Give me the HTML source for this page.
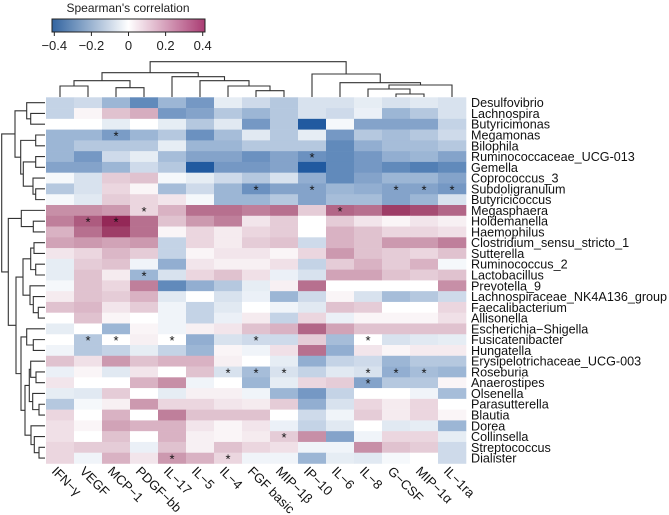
<!DOCTYPE html>
<html><head><meta charset="utf-8"><style>
html,body{margin:0;padding:0;background:#fff;}
svg{display:block;font-family:"Liberation Sans",Arial,sans-serif;}
</style></head><body>
<svg id="chart" width="669" height="515" viewBox="0 0 669 515">
<defs>
<linearGradient id="cbg" x1="0" x2="1" y1="0" y2="0">
<stop offset="0" stop-color="rgb(50,100,160)"/>
<stop offset="0.5" stop-color="#ffffff"/>
<stop offset="1" stop-color="rgb(170,60,115)"/>
</linearGradient>
</defs>
<g>
<text x="128" y="12" font-size="12" text-anchor="middle" fill="#222">Spearman's correlation</text>
<rect x="52" y="19" width="153" height="13" fill="url(#cbg)" stroke="#222" stroke-width="1"/>
<g id="cbticks"></g>
</g>
<g id="coldend"></g>
<g id="rowdend"></g>
<g id="cells"></g>
<g id="stars"></g>
<g id="rowlabels"></g>
<g id="collabels"></g>
</svg>
<script>
const columns = ["IFN\u2212\u03b3","VEGF","MCP\u22121","PDGF\u2212bb","IL\u221217","IL\u22125","IL\u22124","FGF basic","MIP\u22121\u03b2","IP\u221210","IL\u22126","IL\u22128","G\u2212CSF","MIP\u22121\u03b1","IL\u22121ra"];
const rows = ["Desulfovibrio","Lachnospira","Butyricimonas","Megamonas","Bilophila","Ruminococcaceae_UCG-013","Gemella","Coprococcus_3","Subdoligranulum","Butyricicoccus","Megasphaera","Holdemanella","Haemophilus","Clostridium_sensu_stricto_1","Sutterella","Ruminococcus_2","Lactobacillus","Prevotella_9","Lachnospiraceae_NK4A136_group","Faecalibacterium","Allisonella","Escherichia\u2212Shigella","Fusicatenibacter","Hungatella","Erysipelotrichaceae_UCG-003","Roseburia","Anaerostipes","Olsenella","Parasutterella","Blautia","Dorea","Collinsella","Streptococcus","Dialister"];
const values = [
[-0.12,-0.10,-0.20,-0.32,-0.20,-0.28,-0.05,-0.10,-0.15,-0.08,-0.08,-0.05,-0.08,-0.06,-0.08],
[-0.12,0.02,0.12,0.16,-0.28,-0.25,-0.15,-0.20,-0.15,-0.08,-0.10,-0.04,-0.20,-0.15,-0.08],
[0.00,0.00,-0.05,0.00,-0.05,-0.15,-0.06,-0.28,-0.15,-0.45,-0.02,-0.25,-0.25,-0.25,-0.12],
[-0.20,-0.20,-0.27,-0.20,-0.15,-0.30,-0.18,-0.06,-0.15,-0.05,-0.28,-0.15,-0.18,-0.15,-0.10],
[-0.20,-0.15,-0.15,-0.15,-0.05,-0.20,-0.20,-0.15,-0.15,-0.15,-0.32,-0.22,-0.18,-0.18,-0.15],
[-0.20,-0.28,-0.10,-0.05,-0.18,-0.25,-0.25,-0.30,-0.25,-0.30,-0.32,-0.28,-0.22,-0.20,-0.25],
[-0.25,-0.25,-0.20,-0.10,-0.15,-0.45,-0.28,-0.28,-0.25,-0.45,-0.32,-0.28,-0.32,-0.35,-0.32],
[-0.02,-0.08,0.10,0.12,-0.02,-0.05,-0.10,-0.15,-0.08,-0.22,-0.32,-0.25,-0.20,-0.20,-0.25],
[-0.15,-0.08,0.08,0.02,-0.18,-0.10,-0.20,-0.30,-0.25,-0.25,-0.20,-0.22,-0.25,-0.25,-0.28],
[-0.02,-0.06,0.10,0.08,0.05,-0.02,-0.20,-0.20,-0.15,-0.25,-0.18,-0.18,-0.25,-0.20,-0.08],
[0.22,0.22,0.20,0.08,0.15,0.28,0.28,0.25,0.28,0.10,0.30,0.28,0.38,0.35,0.30],
[0.25,0.32,0.42,0.28,0.12,0.20,0.25,0.05,0.10,0.00,0.10,0.05,0.02,0.05,0.03],
[0.15,0.28,0.38,0.28,0.02,0.08,0.04,0.08,0.10,0.00,0.15,0.12,0.08,0.08,0.06],
[0.18,0.20,0.18,0.20,-0.12,0.08,0.04,0.10,0.12,-0.10,0.15,0.12,0.20,0.20,0.25],
[0.05,0.08,0.14,0.10,-0.12,0.02,0.05,0.05,0.02,0.08,0.20,0.12,0.10,0.08,0.12],
[-0.05,0.10,0.12,-0.03,-0.22,0.05,0.03,0.03,0.06,-0.12,0.10,0.15,0.10,0.15,-0.02],
[-0.05,0.12,0.04,-0.20,-0.08,0.08,0.12,0.06,-0.04,-0.08,0.18,0.18,0.12,0.10,0.12],
[-0.02,0.12,0.08,0.25,-0.32,-0.22,-0.15,-0.05,0.03,0.28,0.00,0.00,0.00,0.00,0.22],
[0.04,0.12,0.10,0.15,-0.06,0.00,-0.08,-0.04,-0.20,-0.10,0.02,-0.08,-0.18,-0.15,-0.10],
[0.12,0.14,0.05,0.10,-0.03,-0.12,-0.06,0.00,-0.03,-0.06,0.12,0.10,0.00,0.00,0.08],
[0.00,0.12,0.02,0.00,-0.03,-0.12,-0.04,0.04,-0.12,0.08,-0.04,0.02,0.02,0.02,0.06],
[-0.05,0.00,-0.20,0.02,-0.03,0.03,0.05,0.12,0.15,0.30,0.18,0.12,0.12,0.12,0.12],
[0.00,-0.15,0.00,0.03,0.00,-0.22,-0.08,-0.10,-0.10,0.10,-0.18,0.00,-0.08,-0.06,-0.05],
[-0.03,-0.15,-0.12,-0.05,-0.12,-0.20,0.02,-0.03,0.06,0.28,-0.22,0.05,0.02,0.04,0.04],
[0.12,0.06,0.20,0.12,0.15,0.15,0.03,0.00,-0.05,-0.22,-0.12,-0.10,-0.20,-0.15,-0.15],
[-0.04,0.02,-0.06,0.05,0.00,0.12,-0.08,-0.18,-0.08,-0.12,-0.06,-0.08,-0.22,-0.18,-0.20],
[0.05,0.00,0.00,0.15,0.22,-0.03,0.00,-0.20,-0.05,0.08,0.10,-0.25,-0.15,-0.15,0.02],
[-0.05,-0.06,0.10,0.00,-0.05,0.03,0.03,-0.03,-0.20,-0.28,-0.12,0.00,0.00,-0.03,-0.18],
[-0.15,-0.02,0.03,0.20,0.08,0.08,0.05,0.04,0.10,-0.22,-0.08,0.08,0.04,0.08,0.00],
[0.08,0.00,0.15,0.00,0.25,0.12,0.12,0.12,0.00,-0.10,-0.03,0.10,0.04,0.08,0.02],
[0.06,0.02,0.18,0.15,0.15,0.05,0.02,0.05,-0.04,-0.12,-0.06,0.00,-0.06,-0.05,-0.20],
[0.06,0.00,0.12,0.00,0.15,0.03,0.02,0.04,0.10,0.22,-0.25,-0.03,0.08,0.08,-0.05],
[0.08,0.10,0.10,-0.04,0.12,0.03,0.12,0.08,0.06,-0.03,-0.03,0.22,0.12,0.10,-0.10],
[0.08,-0.03,0.15,0.05,0.20,0.15,0.08,-0.03,-0.03,-0.20,-0.05,-0.06,-0.02,0.00,-0.10]
];
const starRows = [3,5,8,8,8,8,8,10,10,11,11,16,22,22,22,22,22,25,25,25,25,25,25,26,31,33,33];
const starCols = [2,9,7,9,12,13,14,3,10,1,2,3,1,2,4,7,11,6,7,8,11,12,13,11,8,4,6];
const legendTicks = [-0.4,-0.2,0,0.2,0.4];
const legendTickLabels = ["\u22120.4","\u22120.2","0","0.2","0.4"];

const NS = "http://www.w3.org/2000/svg";
const X0 = 46, CW = 28, Y0 = 97.3, RH = 10.77;
function xScale(i){ return X0 + CW*i; }
function yScale(r){ return Y0 + RH*r; }
function legendX(v){ return 128.5 + v*(148.4/0.8); }
function color(v){
  const t = Math.min(1, Math.abs(v)/0.45);
  const end = v < 0 ? [33,90,160] : [140,25,75];
  const c = end.map(e => Math.round(255 + (e-255)*t));
  return "rgb(" + c.join(",") + ")";
}
function mk(tag, attrs, parent){
  const el = document.createElementNS(NS, tag);
  for (const k in attrs) el.setAttribute(k, attrs[k]);
  parent.appendChild(el);
  return el;
}
const cbt = document.getElementById("cbticks");
legendTicks.forEach((v,i) => {
  const ln = mk("line", {x1:legendX(v), x2:legendX(v), y1:32, y2:36, stroke:"#222"}, cbt);
  
  
  const tx = mk("text", {x:legendX(v), y:50, "font-size":13, "text-anchor":"middle", fill:"#222"}, cbt);
  tx.textContent = legendTickLabels[i];
  
  
});
const cg = document.getElementById("cells");
values.forEach((row, r) => row.forEach((v, c) => {
  const rc = mk("rect", {x:xScale(c), y:yScale(r), width:CW+0.3, height:RH+0.3, fill:color(v)}, cg);
  
  
}));
const sg = document.getElementById("stars");
starRows.forEach((r, i) => {
  const t = mk("text", {x:xScale(starCols[i])+CW/2, y:yScale(r)+RH/2+5.5, "font-size":13, "text-anchor":"middle", fill:"#111"}, sg);
  t.textContent = "*";
  
  
});
const rl = document.getElementById("rowlabels");
rows.forEach((name, r) => {
  const t = mk("text", {x:471, y:yScale(r)+RH/2+4.5, "font-size":12.6, fill:"#111"}, rl);
  t.textContent = name;
  
  
});
const cl = document.getElementById("collabels");
columns.forEach((name, c) => {
  const x = xScale(c)+CW/2-9, y = 472;
  const t = mk("text", {x:x, y:y, "font-size":13, fill:"#111", transform:"rotate(45 "+x+" "+y+")"}, cl);
  t.textContent = name;
  
  
});
const colTree = [61.7,
  [72.7, [80.7,[86,0,1],[87.7,2,3]], [76.7,4,[80.7,5,[86,6,[90.7,7,8]]]]],
  [74, 9, [82.7, 10, [85, [89, 11, [94, 12, 13]], 14]]]
];
const rowTree = [1.7,
  [15, [26.7,0,[30.7,1,2]], [20.7,[35.7,3,4],[23.3,[35.7,5,6],[33,7,[35.7,8,9]]]]],
  [8.3, [21.3,10,[33.3,11,12]],
    [16,
      [23, [30.7,[34,13,14],[35.7,15,16]], [30,17,[33.3,18,[38.3,19,20]]]],
      [21, [26.7,21,[33.3,22,23]], [25, [29.3,[30.7,24,[36,25,26]],[32.7,27,[39,28,29]]], [31,30,[34.3,31,[39,32,33]]]]]
    ]
  ]
];
function drawTree(node, g, leafPos, leafEnd, horizontal){
  if (typeof node === "number") return [leafPos(node), leafEnd];
  const h = node[0];
  const a = drawTree(node[1], g, leafPos, leafEnd, horizontal);
  const b = drawTree(node[2], g, leafPos, leafEnd, horizontal);
  let d;
  if (horizontal) d = "M"+a[0]+","+a[1]+"V"+h+"H"+b[0]+"V"+b[1];
  else d = "M"+a[1]+","+a[0]+"H"+h+"V"+b[0]+"H"+b[1];
  const p = mk("path", {d:d, fill:"none", stroke:"#333", "stroke-width":1.1}, g);
  
  
  return [(a[0]+b[0])/2, h];
}
drawTree(colTree, document.getElementById("coldend"), i => xScale(i)+CW/2, 97, true);
drawTree(rowTree, document.getElementById("rowdend"), r => yScale(r)+RH/2, 45, false);
</script>
</body></html>
